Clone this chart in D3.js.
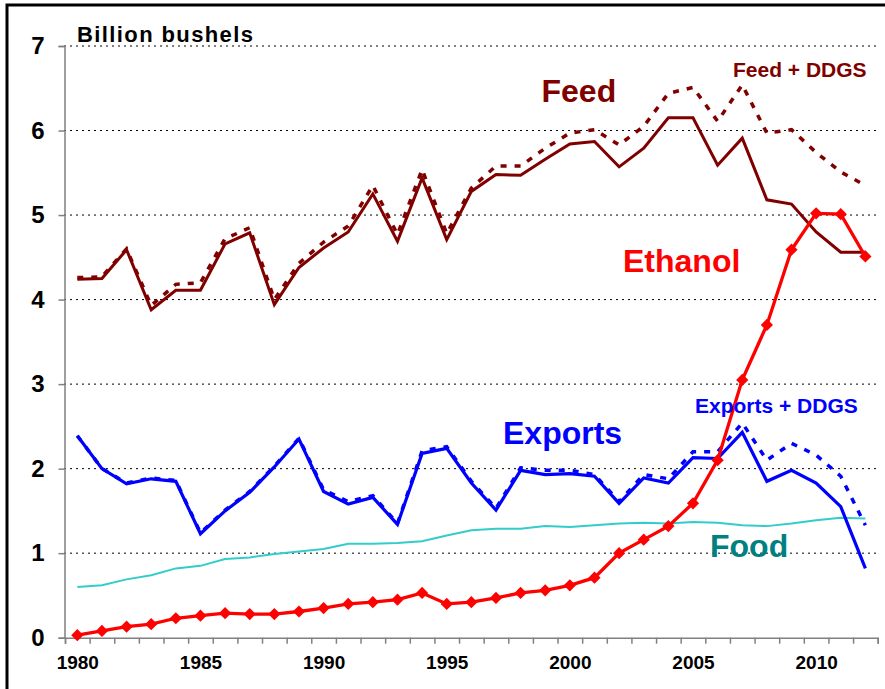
<!DOCTYPE html>
<html><head><meta charset="utf-8">
<script src="https://cdn.jsdelivr.net/npm/d3@7"></script>
<style>
body{margin:0;background:#fff;}
svg{display:block;font-family:"Liberation Sans",Arial,sans-serif;}
</style></head>
<body>
<svg id="c" width="885" height="689"></svg>
<script>
const years = d3.range(1980, 2013);
const feed = [4.24,4.25,4.59,3.88,4.11,4.11,4.66,4.79,3.94,4.38,4.61,4.80,5.25,4.69,5.44,4.71,5.28,5.48,5.47,5.66,5.84,5.87,5.57,5.79,6.15,6.15,5.59,5.91,5.18,5.13,4.80,4.56,4.56];
const feedDDGS = [4.26,4.27,4.60,3.93,4.18,4.20,4.72,4.85,4.00,4.43,4.68,4.87,5.35,4.77,5.54,4.78,5.32,5.58,5.58,5.79,5.97,6.01,5.83,6.05,6.44,6.51,6.11,6.54,5.97,6.01,5.74,5.51,5.35];
const ethanol = [0.03,0.08,0.13,0.16,0.23,0.26,0.29,0.28,0.28,0.31,0.35,0.40,0.42,0.45,0.53,0.40,0.42,0.47,0.53,0.56,0.62,0.71,1.00,1.16,1.32,1.59,2.10,3.05,3.70,4.59,5.02,5.01,4.51];
const exportsS = [2.39,2.00,1.82,1.88,1.85,1.23,1.50,1.72,2.02,2.35,1.73,1.58,1.66,1.34,2.18,2.24,1.83,1.51,1.98,1.93,1.94,1.91,1.59,1.89,1.83,2.13,2.12,2.43,1.85,1.98,1.83,1.55,0.82];
const exportsDDGS = [2.39,2.00,1.83,1.89,1.86,1.24,1.51,1.73,2.03,2.36,1.75,1.61,1.68,1.35,2.21,2.26,1.85,1.53,2.01,1.98,1.98,1.93,1.61,1.93,1.88,2.20,2.20,2.54,2.10,2.30,2.16,1.91,1.33];
const food = [0.60,0.62,0.69,0.74,0.82,0.85,0.93,0.95,0.99,1.02,1.05,1.11,1.11,1.12,1.14,1.21,1.27,1.29,1.29,1.32,1.31,1.33,1.35,1.36,1.35,1.37,1.36,1.33,1.32,1.35,1.39,1.42,1.41];
const yTicks = [0,1,2,3,4,5,6,7];
const xLabels = [1980,1985,1990,1995,2000,2005,2010];

const svg = d3.select("#c");
const x = d3.scaleLinear().domain([1979.5, 2012.5]).range([65, 877.7]);
const y = d3.scaleLinear().domain([0, 7]).range([637.7, 46]);

// frame
svg.append("rect").attr("x",7).attr("y",5).attr("width",890).attr("height",700)
  .attr("fill","none").attr("stroke","#000").attr("stroke-width",3);

// grid
svg.append("g").selectAll("line").data(yTicks.filter(d=>d>0)).join("line")
  .attr("x1",64).attr("x2",880).attr("y1",d=>y(d)).attr("y2",d=>y(d))
  .attr("stroke","#000").attr("stroke-width",1).attr("stroke-dasharray","2,4");

// y axis
const ya = svg.append("g").attr("transform","translate(64.5,0)")
  .call(d3.axisLeft(y).tickValues(yTicks).tickSize(6).tickPadding(14).tickFormat(d3.format("d")));
ya.select(".domain").attr("stroke","#808080").attr("stroke-width",1.5);
ya.selectAll(".tick line").attr("stroke","#808080").attr("stroke-width",1.5);
ya.selectAll("text").attr("font-size",24).attr("font-weight","bold").attr("fill","#000")
  .attr("font-family","Liberation Sans, Arial, sans-serif");

// x axis ticks
const xa = svg.append("g").attr("transform","translate(0,637.7)")
  .call(d3.axisBottom(x).tickValues(d3.range(1979.5, 2013, 1)).tickSize(6).tickFormat(""));
xa.select(".domain").attr("stroke","#808080").attr("stroke-width",1.5);
xa.selectAll(".tick line").attr("stroke","#808080").attr("stroke-width",1.5);
const xl = svg.append("g").attr("transform","translate(0,637.7)")
  .call(d3.axisBottom(x).tickValues(xLabels).tickSize(0).tickPadding(18).tickFormat(d3.format("d")));
xl.select(".domain").remove();
xl.selectAll("text").attr("font-size",19).attr("font-weight","bold").attr("fill","#000")
  .attr("font-family","Liberation Sans, Arial, sans-serif");

const line = d3.line().x((d,i)=>x(years[i])).y(d=>y(d));

svg.append("path").datum(food).attr("d",line).attr("fill","none")
  .attr("stroke","#33CCCC").attr("stroke-width",2);
svg.append("path").datum(exportsDDGS).attr("d",line).attr("fill","none")
  .attr("stroke","#0000FF").attr("stroke-width",3.5).attr("stroke-dasharray","6,8");
svg.append("path").datum(exportsS).attr("d",line).attr("fill","none")
  .attr("stroke","#0000FF").attr("stroke-width",3.2);
svg.append("path").datum(feedDDGS).attr("d",line).attr("fill","none")
  .attr("stroke","#800000").attr("stroke-width",3.5).attr("stroke-dasharray","6,8");
svg.append("path").datum(feed).attr("d",line).attr("fill","none")
  .attr("stroke","#800000").attr("stroke-width",3);
svg.append("path").datum(ethanol).attr("d",line).attr("fill","none")
  .attr("stroke","#FF0000").attr("stroke-width",3.3);
svg.append("g").selectAll("path").data(ethanol).join("path")
  .attr("d", d3.symbol().type(d3.symbolDiamond2).size(95))
  .attr("transform",(d,i)=>`translate(${x(years[i])},${y(d)})`)
  .attr("fill","#FF0000");

// labels
function lab(t,xx,yy,size,col,len){
  const e = svg.append("text").attr("x",xx).attr("y",yy).attr("font-size",size)
    .attr("font-weight","bold").attr("fill",col).text(t);
  if(len) e.attr("textLength",len).attr("lengthAdjust","spacing");
}
lab("Billion bushels",77,41.7,22,"#000",176);
lab("Feed",541.5,101.7,32,"#800000");
lab("Feed + DDGS",733,76.7,21,"#800000");
lab("Ethanol",623,271.7,32,"#FF0000");
lab("Exports",503,444,32,"#0000FF");
lab("Exports + DDGS",695,412.7,21,"#0000FF");
lab("Food",710,556.7,32,"#008080");
</script>
</body></html>
